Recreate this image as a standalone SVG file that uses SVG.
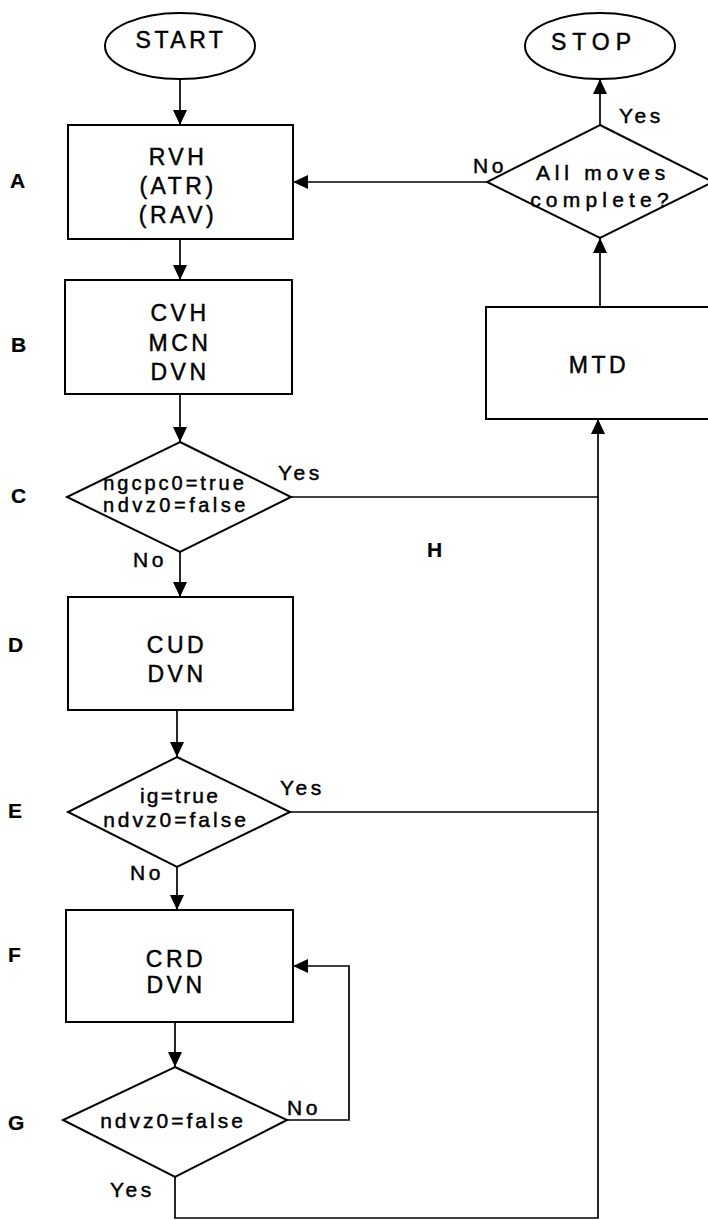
<svg xmlns="http://www.w3.org/2000/svg" width="708" height="1220" viewBox="0 0 708 1220">
<defs>
<style>
.sh{fill:#fff;stroke:#000;stroke-width:2}
.cn{fill:none;stroke:#000;stroke-width:1.7}
text{font-family:"Liberation Sans",Arial,sans-serif;fill:#000;stroke:#000;stroke-width:0.45}
.bt{font-size:23px;letter-spacing:3.5px;text-anchor:middle}
.dt{font-size:21px;letter-spacing:3px;text-anchor:middle}
.lb{font-size:21px;letter-spacing:3.5px}
.tag{font-size:21px;font-weight:bold;stroke-width:0.2}
</style>
<marker id="ah" markerUnits="userSpaceOnUse" markerWidth="16" markerHeight="16" refX="15" refY="7" orient="auto">
<path d="M0,0 L15,7 L0,14 Z" fill="#000"/>
</marker>
</defs>
<rect width="708" height="1220" fill="#fff"/>

<g id="connectors">
<path class="cn" d="M180,79 L180,125" marker-end="url(#ah)"/>
<path class="cn" d="M180,239 L180,280" marker-end="url(#ah)"/>
<path class="cn" d="M180,394 L180,442" marker-end="url(#ah)"/>
<path class="cn" d="M180,552 L180,597" marker-end="url(#ah)"/>
<path class="cn" d="M177,710 L177,757" marker-end="url(#ah)"/>
<path class="cn" d="M177,867 L177,910" marker-end="url(#ah)"/>
<path class="cn" d="M175,1022 L175,1067" marker-end="url(#ah)"/>
<path class="cn" d="M287,1120 L349,1120 L349,966 L293,966" marker-end="url(#ah)"/>
<path class="cn" d="M175,1177 L175,1218 L598,1218 L598,419" marker-end="url(#ah)"/>
<path class="cn" d="M291,497 L598,497"/>
<path class="cn" d="M290,812 L598,812"/>
<path class="cn" d="M600,307 L600,238" marker-end="url(#ah)"/>
<path class="cn" d="M600,125 L600,79" marker-end="url(#ah)"/>
<path class="cn" d="M487,182 L293,182" marker-end="url(#ah)"/>
<text class="lb" x="278" y="480">Yes</text>
<text class="lb" x="133" y="567">No</text>
<text class="lb" x="280" y="795">Yes</text>
<text class="lb" x="130" y="880">No</text>
<text class="lb" x="287" y="1115">No</text>
<text class="lb" x="110" y="1197">Yes</text>
<text class="lb" x="619" y="123">Yes</text>
<text class="lb" x="473" y="173">No</text>
</g>

<g id="start">
<ellipse class="sh" cx="180" cy="46" rx="75" ry="33"/>
<text class="bt" x="181" y="48">START</text>
</g>

<g id="stop">
<ellipse class="sh" cx="600" cy="46" rx="75" ry="33"/>
<text class="bt" x="594" y="50" style="letter-spacing:6px">STOP</text>
</g>

<g id="A">
<rect class="sh" x="68" y="125" width="225" height="114"/>
<text class="bt" x="178" y="165">RVH</text>
<text class="bt" x="178" y="194">(ATR)</text>
<text class="bt" x="178" y="223">(RAV)</text>
<text class="tag" x="10" y="188">A</text>
</g>

<g id="B">
<rect class="sh" x="65" y="280" width="227" height="114"/>
<text class="bt" x="180" y="321">CVH</text>
<text class="bt" x="180" y="351">MCN</text>
<text class="bt" x="180" y="380">DVN</text>
<text class="tag" x="11" y="352">B</text>
</g>

<g id="C">
<polygon class="sh" points="180,442 291,497 180,552 67,497"/>
<text class="dt" x="175" y="490" style="font-size:20px">ngcpc0=true</text>
<text class="dt" x="176" y="512" style="font-size:20px;letter-spacing:3.5px">ndvz0=false</text>
<text class="tag" x="11" y="503">C</text>
</g>

<g id="D">
<rect class="sh" x="68" y="597" width="225" height="113"/>
<text class="bt" x="177" y="653">CUD</text>
<text class="bt" x="177" y="682">DVN</text>
<text class="tag" x="8" y="652">D</text>
</g>

<g id="E">
<polygon class="sh" points="177,757 290,812 177,867 68,812"/>
<text class="dt" x="180" y="803" style="letter-spacing:2.2px">ig=true</text>
<text class="dt" x="176" y="827">ndvz0=false</text>
<text class="tag" x="8" y="818">E</text>
</g>

<g id="F">
<rect class="sh" x="66" y="910" width="227" height="112"/>
<text class="bt" x="176" y="967">CRD</text>
<text class="bt" x="176" y="993">DVN</text>
<text class="tag" x="8" y="962">F</text>
</g>

<g id="G">
<polygon class="sh" points="175,1067 287,1120 175,1177 63,1120"/>
<text class="dt" x="173" y="1128">ndvz0=false</text>
<text class="tag" x="8" y="1130">G</text>
</g>

<g id="H">
<text class="tag" x="427" y="557">H</text>
</g>

<g id="MTD">
<rect class="sh" x="486" y="307" width="240" height="112"/>
<text class="bt" x="599" y="373">MTD</text>
</g>

<g id="complete">
<polygon class="sh" points="600,125 713,182 600,238 487,182"/>
<text class="dt" x="603" y="180" style="letter-spacing:4.8px">All moves</text>
<text class="dt" x="602" y="207" style="letter-spacing:5.2px">complete?</text>
</g>
</svg>
